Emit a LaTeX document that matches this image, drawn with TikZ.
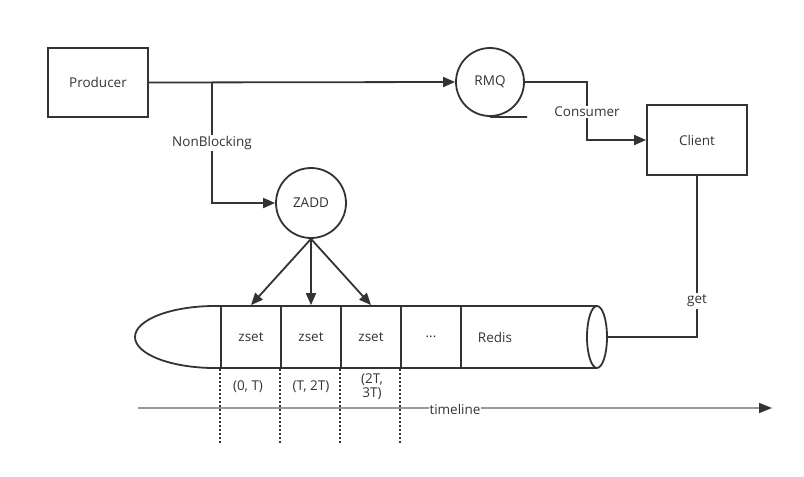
\documentclass[tikz,border=0pt]{standalone}
\usepackage{fontspec}
\setmainfont{Open Sans}
\usetikzlibrary{arrows.meta,shapes.geometric}
\definecolor{ink}{HTML}{333333}
\definecolor{tl}{HTML}{999999}
\begin{document}
\begin{tikzpicture}[x=1pt,y=-1pt,
  font=\fontsize{13.5}{15}\selectfont, text=ink,
  ln/.style={draw=ink,line width=1.8pt},
  arr/.style={ln,-{Triangle[length=12pt,width=10pt]}},
  box/.style={ln,fill=white,minimum width=100pt,minimum height=69pt,inner sep=0pt},
  circ/.style={ln,circle,fill=white,inner sep=0pt},
  cell/.style={ln,fill=white,minimum width=60pt,minimum height=62pt,inner sep=0pt},
  lbl/.style={fill=white,inner sep=1.5pt},
  dot/.style={draw=ink,line width=1.8pt,dash pattern=on 1.8pt off 2.2pt}]
\useasboundingbox (0,0) rectangle (804,477);
% nodes
\node[box] (prod) at (98,82.5) {Producer};
\node[circ,minimum size=68pt] (rmq) at (490,82) {RMQ};
\node[circ,minimum size=70pt] (zadd) at (311,203) {ZADD};
\node[box,minimum height=70pt] (client) at (697,140) {Client};
% redis cylinder
\draw[ln,fill=white] (597,306) -- (215,306) arc[start angle=270,end angle=90,x radius=80,y radius=31] -- (597,368);
\node[ln,ellipse,fill=white,minimum width=20pt,minimum height=62pt,inner sep=0pt] (redisend) at (597,337) {};
\coordinate (redisR) at (607,337);
\node[cell] (z1) at (251,337) {zset};
\node[cell] (z2) at (311,337) {zset};
\node[cell] (z3) at (371,337) {zset};
\node[cell] (z4) at (431,337) {...};
\node (redis) at (495,337) {Redis};
% tape line under RMQ
\coordinate (tapeend) at (527,117);
\draw[ln] (rmq.south) -- (tapeend);
% connectors
\coordinate (split) at (212,82.5);
\draw[arr] (prod.east) -- (rmq.west);
\draw[arr] (split) -- (212,203) -- (zadd.west);
\node[lbl] (nb) at (212,143) {NonBlocking};
\draw[arr] (rmq.east) -- (587,82) -- (587,140) -- (client.west);
\node[lbl] (cons) at (587,112) {Consumer};
\draw[ln] (client.south) -- (697,337) -- (redisR);
\node[lbl] (get) at (697,301) {get};
\draw[arr] (zadd.south) -- (z1.north);
\draw[arr] (zadd.south) -- (z2.north);
\draw[arr] (zadd.south) -- (z3.north);
% dotted
\draw[dot] (z1.south west) -- ++(0,75);
\draw[dot] (z2.south west) -- ++(0,75);
\draw[dot] (z3.south west) -- ++(0,75);
\draw[dot] (z4.south west) -- ++(0,75);
\node (l1) at (248,387) {(0, T)};
\node (l2) at (311,387) {(T, 2T)};
\node[align=center,font=\fontsize{13.5}{14}\selectfont] (l3) at (372,387) {(2T,\\3T)};
% timeline
\coordinate (t0) at (138,408);
\coordinate (t1) at (772,408);
\draw[draw=tl,line width=1.6pt,-{Triangle[length=13pt,width=10pt,color=ink]}] (t0) -- (t1);
\node[lbl,inner sep=0.5pt] (tln) at (455,409) {timeline};
\end{tikzpicture}
\end{document}
